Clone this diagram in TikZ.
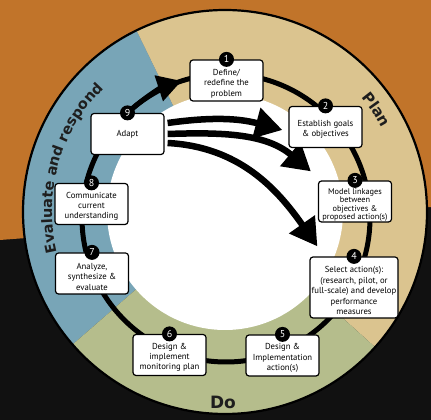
\documentclass[tikz,border=0pt]{standalone}
\usepackage{fontspec}
\setmainfont{PT Sans}
\newfontfamily\labelfont{DejaVu Sans}
\usetikzlibrary{arrows.meta,decorations.text}
\pgfdeclarelayer{back}
\pgfdeclarelayer{links}
\pgfsetlayers{back,links,main}
\definecolor{bgorange}{RGB}{193,116,42}
\definecolor{bgdark}{RGB}{17,17,17}
\definecolor{plantan}{RGB}{219,196,143}
\definecolor{evalblue}{RGB}{120,165,183}
\definecolor{dogreen}{RGB}{181,189,140}
\definecolor{labelink}{RGB}{30,30,30}
% pushes a box text below its number
\newcommand{\lowtext}[1][12.5pt]{\rule{0pt}{#1}}
\begin{document}
\begin{tikzpicture}[x=1pt,y=1pt]
        \tikzstyle{stepbox}=[rectangle,rounded corners=3pt,draw=black,line width=1.2pt,fill=white,minimum width=73pt,minimum height=41pt,inner sep=1pt,align=center,font=\fontsize{8.7}{10.4}\selectfont]
        \tikzstyle{num}=[circle,fill=black,text=white,inner sep=0pt,minimum size=15pt,font=\fontsize{10}{10}\selectfont]
        \tikzstyle{ring}=[draw=black,line width=5pt]
        \tikzstyle{adapt}=[draw=black,line width=6.5pt,-{Triangle[length=27pt,width=30pt]}]
        \tikzstyle{phase}=[text=labelink,font=\labelfont\bfseries\fontsize{17}{17}\selectfont]
       \useasboundingbox (0,0) rectangle (431,420);
       \coordinate (mid) at (225,208);
       \coordinate (cyc) at (226,202);
       % steps
       \node[stepbox] (s1) at (226.5,339.5) {\lowtext Define/\\redefine the\\problem};
       \node[stepbox] (s2) at (325.5,293) {\lowtext[11pt]Establish goals\\\& objectives};
       \node[stepbox,inner sep=0.3pt,font=\fontsize{8.3}{8.3}\selectfont] (s3) at (355,218.5) {\lowtext[13pt]Model linkages\\between\\objectives \&\\proposed action(s)};
       \node[stepbox,minimum width=88pt,minimum height=61pt] (s4) at (354,132.5) {\lowtext Select action(s):\\(research, pilot, or\\full-scale) and develop\\performance\\measures};
       \node[stepbox] (s5) at (282.5,64.5) {\lowtext[11pt]Design \&\\Implementation\\action(s)};
       \node[stepbox] (s6) at (169.5,65) {\lowtext[11pt]Design \&\\implement\\monitoring plan};
       \node[stepbox] (s7) at (92,146.5) {\lowtext Analyze,\\synthesize \&\\evaluate};
       \node[stepbox] (s8) at (91.5,216) {\lowtext[11pt]Communicate\\current\\understanding};
       \node[stepbox] (s9) at (127.5,286) {Adapt};
       \node[num] (n1) at (s1.north) {1};
       \node[num] (n2) at (s2.north) {2};
       \node[num] (n3) at (s3.north) {3};
       \node[num] (n4) at (s4.north) {4};
       \node[num] (n5) at (s5.north) {5};
       \node[num] (n6) at (s6.north) {6};
       \node[num] (n7) at (s7.north) {7};
       \node[num] (n8) at (s8.north) {8};
       \node[num] (n9) at (s9.north) {9};
       % background and the three phases
       \begin{pgfonlayer}{back}
       \fill[bgdark] (0,0) rectangle (431,420);
       \fill[bgorange] (0,420) -- (431,420) -- (431,213) -- (0,180) -- cycle;
       \fill[plantan] (mid) -- ++(-42:202) arc[start angle=-42,end angle=116,radius=202] -- cycle;
       \fill[evalblue] (mid) -- ++(116:202) arc[start angle=116,end angle=221,radius=202] -- cycle;
       \fill[dogreen] (mid) -- ++(221:202) arc[start angle=221,end angle=318,radius=202] -- cycle;
       \draw[line width=2.2pt] (mid) circle[radius=202];
       \fill[white] (mid) circle[radius=118];
       \path[decorate,decoration={text along path,text align=center,text={|\labelfont\bfseries\fontsize{14.5}{14.5}\selectfont\color{labelink}|Evaluate and respond}}] ([shift={(214:173)}]mid) arc[start angle=214,end angle=114,radius=173];
       \path[decorate,decoration={text along path,text align=center,text={|\labelfont\bfseries\fontsize{15}{15}\selectfont\color{labelink}|Plan}}] ([shift={(74:178)}]mid) arc[start angle=74,end angle=-6,radius=178];
       \node[phase] (dolabel) at (223,18) {Do};
       \end{pgfonlayer}
       % the cycle and the adapt loops
       \begin{pgfonlayer}{links}
       \draw[ring] (cyc) circle[radius=144];
       \draw[ring,-{Triangle[length=24pt,width=26pt]}] (n9) arc[start angle=133.2,end angle=108,radius=144];
       \draw[adapt] ([xshift=3,yshift=11]s9.east) to[out=8,in=165] ([xshift=-6,yshift=-3]s2.west);
       \draw[adapt] ([xshift=3]s9.east) to[out=2,in=140] ([xshift=-7,yshift=9]s3.north west);
       \draw[adapt] ([xshift=3,yshift=-9]s9.east) to[out=-3,in=125] ([xshift=8,yshift=10]s4.north west);
       \end{pgfonlayer}
\end{tikzpicture}
\end{document}
